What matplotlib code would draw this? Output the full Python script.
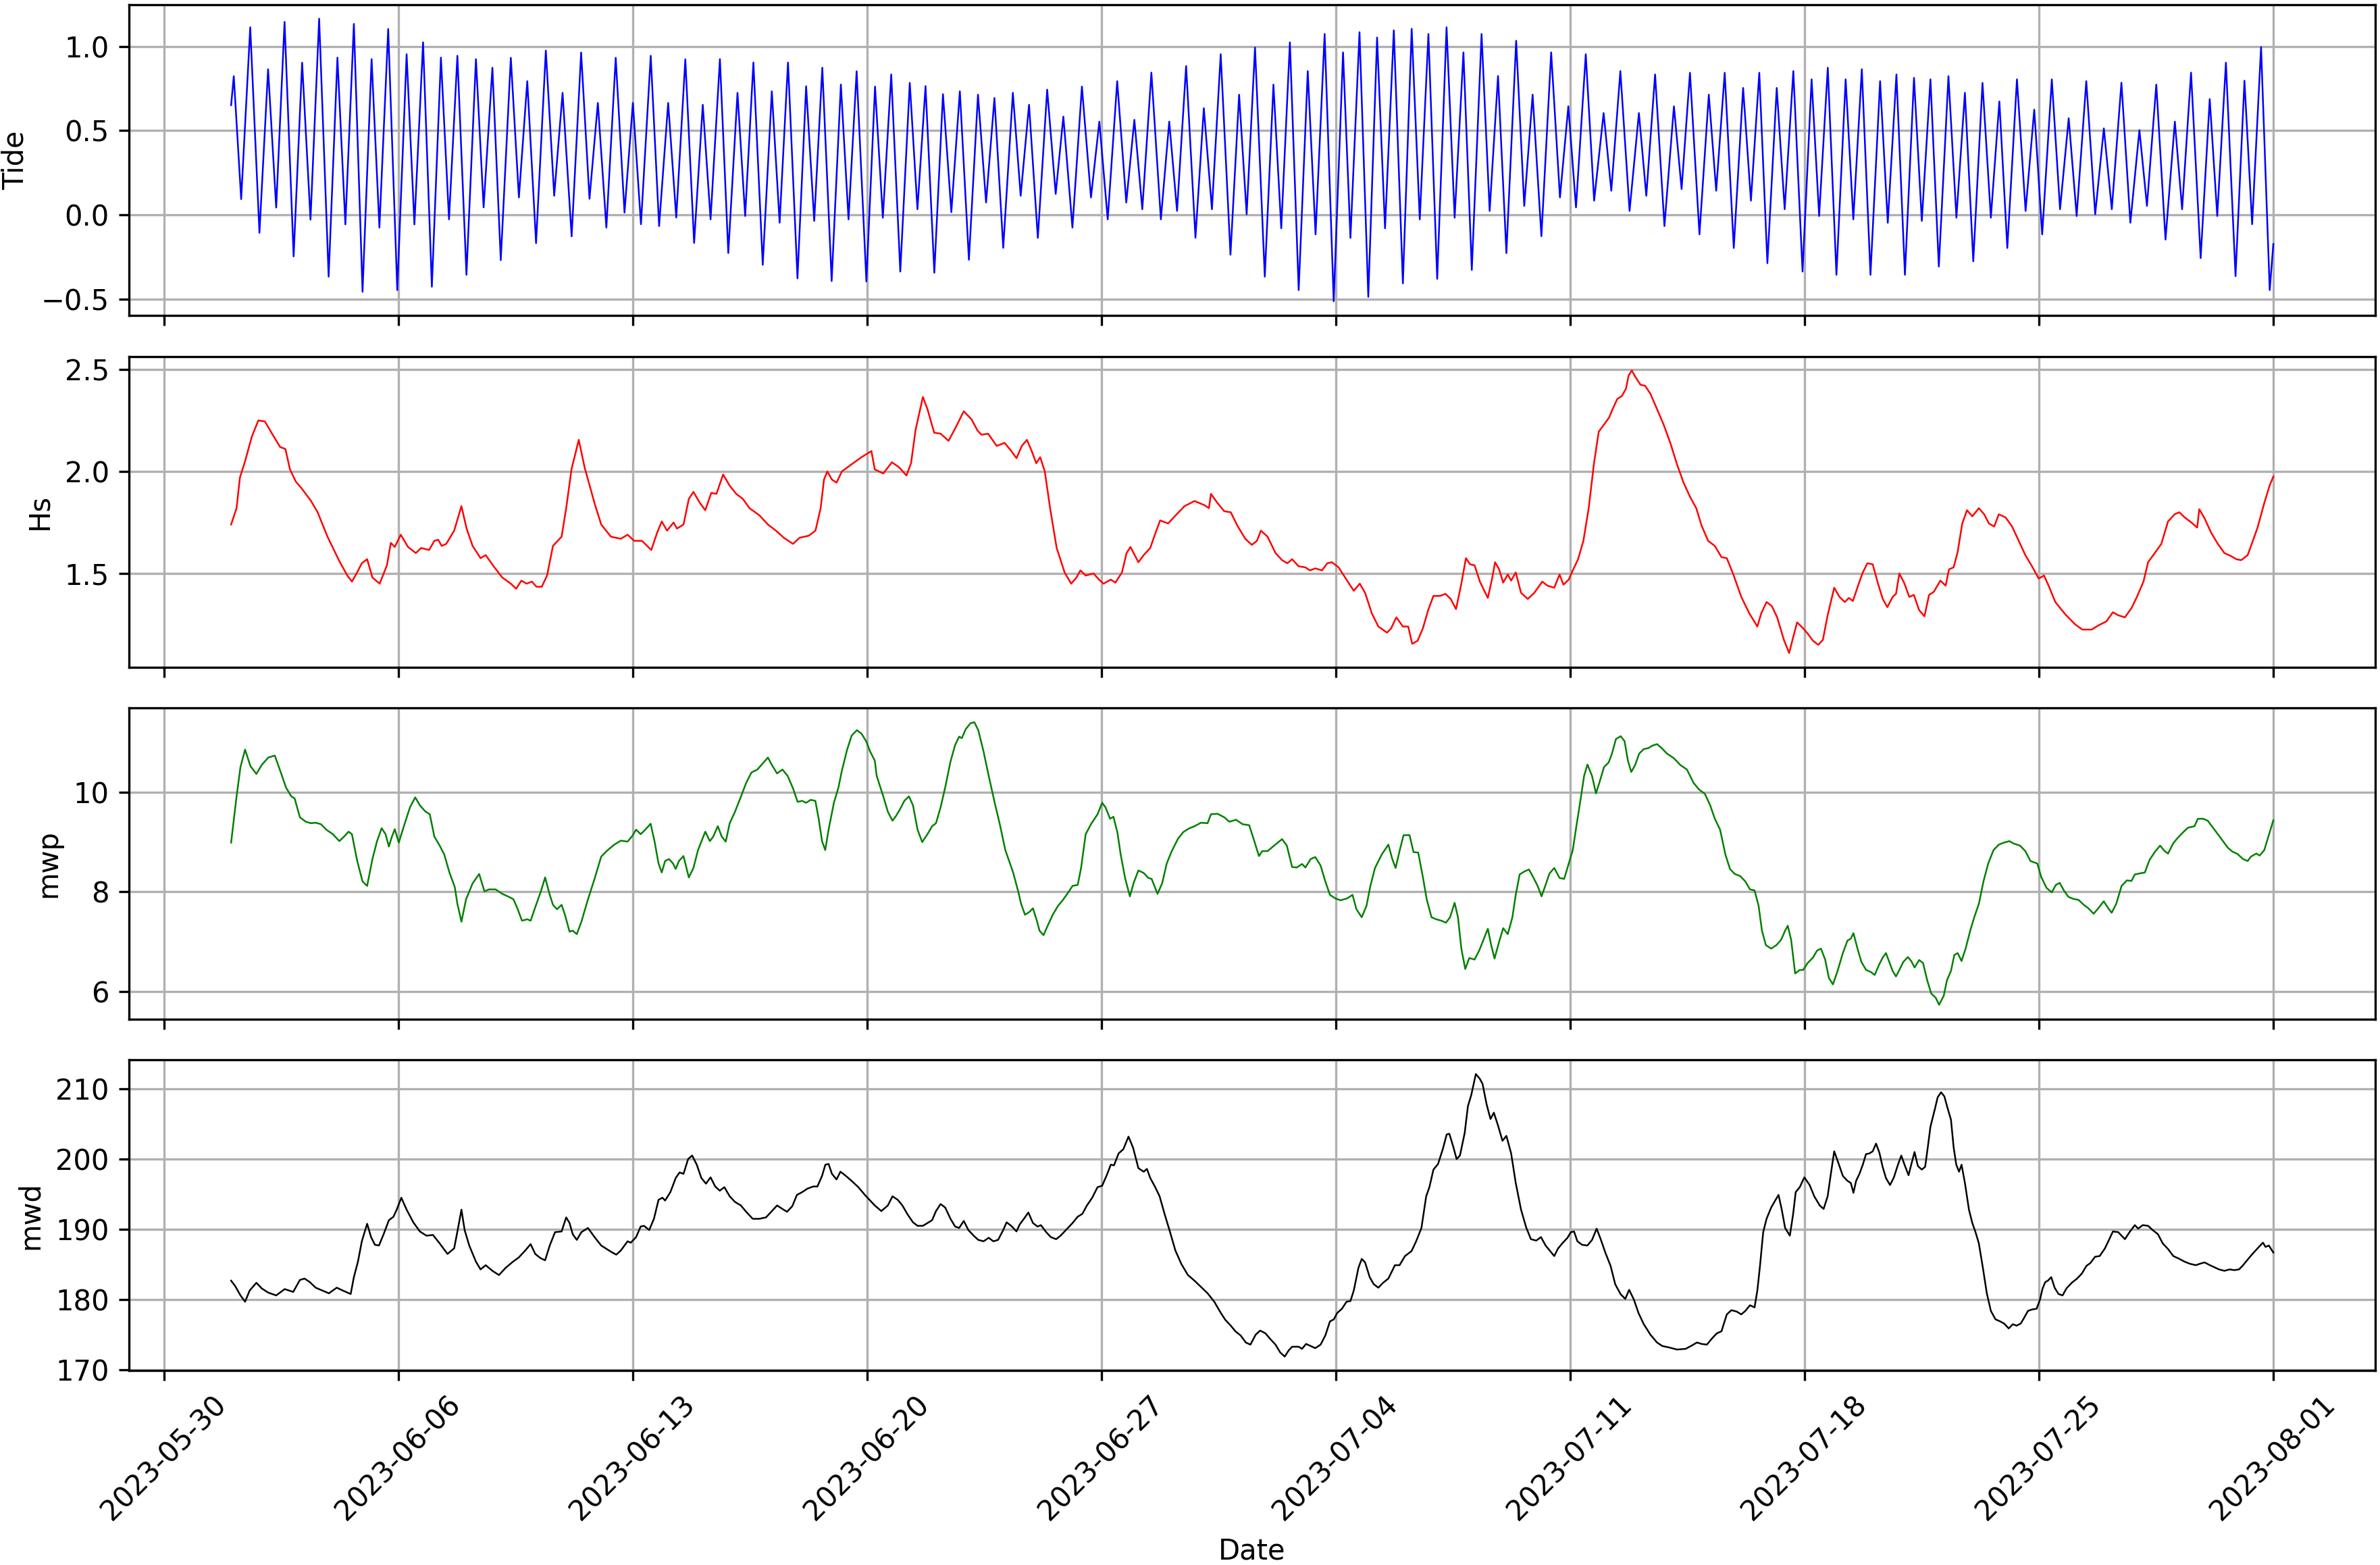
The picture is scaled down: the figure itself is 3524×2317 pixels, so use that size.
import matplotlib
matplotlib.use('Agg')
import matplotlib.pyplot as plt
import matplotlib.dates as mdates
import numpy as np
import pandas as pd

# series start; all times below are hours after this
START = pd.Timestamp('2023-06-01 00:00')

# Tide: high/low waters (hours, metres)
tide_hours = [0, 1.9, 7.2, 13.7, 20.3, 26.5, 32.3, 38.3, 44.8, 50.9, 56.9, 63.1, 69.9, 76.2, 81.9, 88.0, 94.2, 100.7, 106.3, 112.6, 119.1,
              125.8, 131.4, 137.6, 143.9, 150.4, 156.2, 162.2, 168.7, 175.5, 181.0, 187.3, 193.3, 200.5, 206.3, 212.3, 218.6, 225.6, 231.6,
              237.6, 244.1, 250.9, 256.9, 262.9, 269.0, 275.7, 282.0, 288.0, 293.8, 300.8, 306.8, 313.3, 319.1, 325.6, 331.9, 338.1, 343.7,
              350.4, 356.4, 363.0, 368.5,
              374.4, 381.1, 387.6, 393.2, 399.2, 406.0, 412.2, 418.0, 423.8, 430.5, 437.1, 442.6, 448.4, 455.4, 461.6, 467.2, 473.2, 479.7,
              486.5, 492.0, 497.8, 504.1, 510.3, 516.3, 522.4, 528.9, 535.4, 541.2, 547.2, 553.5, 560.4, 566.0, 572.0, 578.3, 585.0, 591.1,
              596.6, 603.1, 609.9, 616.4, 622.4, 628.4, 635.2, 641.7, 647.5, 653.2, 659.7, 666.5, 672.5, 678.1, 684.6, 691.3, 697.3, 703.1,
              709.4, 716.4, 722.6, 728.0,
              734.0, 741.0, 747.2, 752.8, 759.0, 765.3, 771.8, 777.4, 783.9, 790.4, 797.1, 802.4, 808.9, 815.2, 821.5, 827.2, 833.5, 840.0,
              846.3, 852.1, 858.3, 864.6, 871.3, 877.1, 883.4, 889.4, 896.4, 902.2, 908.2, 914.2, 921.2, 927.0, 933.0, 939.3, 946.3, 952.6,
              958.6, 964.1, 971.1, 977.1, 983.9, 989.4, 995.9, 1002.5, 1009.2, 1014.5, 1020.8, 1027.5, 1034.3, 1039.8, 1045.8, 1052.6,
              1059.3, 1064.6, 1070.7, 1077.2, 1083.9, 1089.5, 1095.5,
              1101.3, 1108.0, 1113.7, 1119.9, 1126.5, 1133.0, 1138.4, 1144.6, 1150.8, 1157.4, 1162.9, 1169.0, 1175.2, 1182.1, 1187.6,
              1193.8, 1199.9, 1206.4, 1212.0, 1218.2, 1224.2, 1231.1, 1236.8, 1242.9, 1248.9, 1255.5, 1261.5, 1267.6, 1273.3, 1280.2,
              1286.4, 1292.6, 1298.3, 1305.2, 1311.1, 1317.3, 1323.0, 1329.9, 1336.3, 1342.5, 1348.2, 1355.1, 1361.5, 1368.0, 1373.4,
              1380.1, 1386.7, 1393.4, 1398.6, 1405.0, 1411.9, 1418.4, 1423.8, 1430.0, 1436.9, 1443.3, 1448.8, 1455.2, 1461.4, 1464.0]
tide_vals = [0.651, 0.823, 0.093, 1.113, -0.107, 0.864, 0.043, 1.145, -0.247, 0.903, -0.029, 1.164, -0.367, 0.933, -0.057, 1.133, -0.457,
             0.924, -0.076, 1.103, -0.447, 0.953, -0.057, 1.024, -0.427, 0.933, -0.027, 0.944, -0.356, 0.924, 0.044, 0.873, -0.269, 0.932,
             0.103, 0.793, -0.168, 0.975, 0.113, 0.724, -0.128, 0.963, 0.095, 0.664, -0.076, 0.932, 0.013, 0.664, -0.056, 0.944, -0.067,
             0.664, -0.016, 0.923, -0.167, 0.653, -0.027, 0.924, -0.227, 0.724, -0.007,
             0.904, -0.297, 0.733, -0.047, 0.904, -0.377, 0.763, -0.036, 0.873, -0.393, 0.773, -0.027, 0.852, -0.396, 0.761, -0.017,
             0.833, -0.337, 0.783, 0.033, 0.764, -0.344, 0.716, 0.016, 0.733, -0.267, 0.713, 0.073, 0.693, -0.196, 0.724, 0.113, 0.653,
             -0.137, 0.743, 0.124, 0.583, -0.076, 0.761, 0.103, 0.553, -0.027, 0.793, 0.073, 0.564, 0.033, 0.844, -0.027, 0.553, 0.023,
             0.883, -0.136, 0.633, 0.033, 0.953, -0.237, 0.713, 0.003,
             0.993, -0.367, 0.773, -0.08, 1.024, -0.447, 0.853, -0.116, 1.073, -0.513, 0.964, -0.137, 1.084, -0.487, 1.052, -0.08, 1.095,
             -0.407, 1.104, -0.027, 1.073, -0.38, 1.113, -0.017, 0.964, -0.327, 1.073, 0.023, 0.824, -0.227, 1.033, 0.053, 0.713, -0.127,
             0.964, 0.103, 0.644, 0.044, 0.953, 0.084, 0.604, 0.143, 0.853, 0.023, 0.604, 0.113, 0.833, -0.067, 0.644, 0.153, 0.843,
             -0.116, 0.713, 0.143, 0.843, -0.197, 0.753, 0.084, 0.843,
             -0.287, 0.753, 0.033, 0.853, -0.337, 0.804, -0.007, 0.873, -0.356, 0.804, -0.027, 0.864, -0.356, 0.793, -0.047, 0.833,
             -0.356, 0.813, -0.036, 0.804, -0.307, 0.823, -0.017, 0.724, -0.276, 0.783, -0.017, 0.673, -0.197, 0.804, 0.023, 0.624,
             -0.116, 0.804, 0.033, 0.573, -0.007, 0.793, 0.003, 0.513, 0.033, 0.784, -0.047, 0.503, 0.053, 0.773, -0.147, 0.553, 0.033,
             0.844, -0.257, 0.687, -0.007, 0.903, -0.364, 0.796, -0.056, 0.996, -0.447, -0.173]

# Hs (significant wave height)
hs_hours = [0, 3.9, 6.3, 10.0, 14.8, 19.5, 24.2, 28.9, 35.1, 38.9, 42.2, 46.4, 50.2, 57.3, 62.0, 69.1, 77.6, 83.3, 86.6, 89.9, 93.7, 97.5,
            101.3, 106.5, 111.7, 114.5, 117.3, 121.6, 126.8, 132.4, 136.2, 141.9, 145.7, 148.5, 150.9, 154.2, 159.9, 165.1, 168.8, 173.1,
            178.8, 182.5, 188.2, 194.4, 200.5, 204.3, 208.1, 211.8, 215.6, 218.9, 222.7, 226.5, 230.7, 236.9, 240.2, 244.0, 249.2, 253.4,
            260.5, 265.3, 272.3, 279.4, 284.2, 288.9, 294.5, 301.2, 305.4, 308.7, 312.5, 317.2, 319.6, 324.3, 328.1, 331.4, 336.1, 339.9,
            344.2, 347.9, 352.7, 357.4, 362.1, 366.9, 371.6, 378.7, 384.8, 390.5, 396.2, 402.8, 407.5, 414.1, 418.9, 422.6, 425.0, 427.4,
            430.7, 434.0, 437.8, 444.8, 451.9, 459.0, 461.4, 467.5, 473.7, 478.9, 484.1, 487.4, 490.7, 495.9, 499.2, 504.0, 508.6, 514.3,
            519.0, 525.2, 530.8, 535.1, 537.9, 542.7, 548.8, 554.5, 558.7, 563.0, 566.8, 570.5, 573.9, 577.2, 580.0, 583.3, 587.1, 591.8,
            597.5, 602.2, 606.0, 608.8, 612.6, 618.3, 622.1, 625.4, 630.6, 633.9, 638.6, 641.9, 644.7, 650.4, 654.2, 658.9, 662.2, 666.0,
            671.7, 677.8, 683.5, 690.6, 697.7, 701.0, 702.4, 707.1, 711.9, 716.6, 721.3, 727.0, 731.7,
            735.4, 738.2, 743.0, 748.7, 753.4, 757.2, 760.6, 765.3, 770.1, 773.4, 777.2, 782.0, 785.8, 789.1, 793.9, 798.6, 804.8, 809.1,
            812.9, 817.7, 822.4, 828.6, 831.5, 835.3, 840.0, 843.8, 846.7, 850.5, 854.3, 858.1, 861.9, 866.7, 870.5, 874.3, 878.1, 881.9,
            885.2, 888.1, 891.4, 895.2, 900.9, 903.8, 906.1, 909.0, 911.9, 915.2, 917.6, 920.9, 924.7, 929.5, 934.2, 939.9, 943.7, 948.5,
            952.3, 955.1, 958.9, 961.8, 965.6, 969.4, 973.2, 977.0, 980.4, 984.2, 987.9, 990.3, 993.7, 997.0, 999.9, 1001.8, 1004.1,
            1006.5, 1010.3, 1013.6, 1017.5, 1022.2, 1026.9, 1031.7, 1036.5, 1041.2, 1045.9, 1050.3, 1054.1, 1058.8, 1063.6, 1068.4,
            1072.2, 1076.9, 1082.6, 1088.3, 1094.1, 1096.9, 1100.7, 1104.5, 1108.3, 1113.1, 1116.9, 1119.7, 1122.6, 1126.4, 1130.2,
            1134.0, 1137.8, 1141.1, 1144.5, 1149.2, 1153.0, 1156.8, 1159.7, 1162.6, 1166.3, 1169.7, 1173.0, 1176.8, 1180.6, 1184.0,
            1187.3, 1191.1, 1193.5, 1195.9, 1199.6, 1203.0, 1206.3, 1210.1, 1213.9, 1217.2, 1220.6, 1225.3, 1229.1, 1231.5, 1234.8,
            1237.7, 1241.0, 1244.4, 1248.2, 1252.9, 1256.7, 1260.1, 1263.9, 1267.2, 1272.0, 1276.7, 1281.5, 1286.2, 1291.0, 1295.8,
            1299.6, 1302.9, 1307.7, 1314.8, 1322.0, 1327.1, 1333.8, 1338.5, 1344.3, 1349.0, 1352.8, 1357.6, 1362.3, 1366.2, 1370.9,
            1374.2, 1379.0, 1383.7, 1388.5, 1393.2, 1396.6, 1400.4, 1405.2, 1409.4, 1410.9, 1414.7, 1419.4, 1424.2, 1428.9, 1433.7,
            1437.5, 1440.9, 1445.6, 1448.0, 1452.7, 1457.5, 1461.3, 1464.0]
hs_vals = [1.74, 1.82, 1.97, 2.05, 2.17, 2.25, 2.245, 2.19, 2.12, 2.11, 2.01, 1.95, 1.92, 1.855, 1.80, 1.68, 1.56, 1.49, 1.46, 1.50, 1.55,
           1.57, 1.48, 1.45, 1.54, 1.65, 1.63, 1.69, 1.63, 1.60, 1.625, 1.615, 1.66, 1.665, 1.635, 1.645, 1.71, 1.83, 1.72, 1.635, 1.575,
           1.59, 1.535, 1.48, 1.45, 1.425, 1.465, 1.45, 1.46, 1.435, 1.435, 1.49, 1.635, 1.68, 1.82, 2.01, 2.155, 2.02, 1.845, 1.74,
           1.68, 1.67, 1.69, 1.66, 1.66, 1.615, 1.70, 1.755, 1.71, 1.75, 1.72, 1.74, 1.865, 1.90, 1.845, 1.81, 1.895, 1.89, 1.985, 1.93,
           1.89, 1.865, 1.82, 1.785, 1.74, 1.71, 1.675, 1.645, 1.675, 1.685, 1.71, 1.82, 1.96, 2.00, 1.96, 1.945, 2.00, 2.035, 2.07,
           2.10, 2.01, 1.99, 2.045, 2.02, 1.98, 2.04, 2.205, 2.365, 2.305, 2.19, 2.185, 2.15, 2.21, 2.295, 2.255, 2.20, 2.18, 2.185,
           2.125, 2.14, 2.105, 2.065, 2.125, 2.155, 2.10, 2.04, 2.07, 2.00, 1.82, 1.625, 1.505, 1.45, 1.48, 1.515, 1.49, 1.50, 1.47,
           1.45, 1.47, 1.455, 1.505, 1.60, 1.63, 1.555, 1.59, 1.625, 1.69, 1.76, 1.745, 1.79, 1.83, 1.855, 1.835, 1.82, 1.89, 1.845,
           1.805, 1.80, 1.735, 1.67, 1.64,
           1.66, 1.71, 1.68, 1.60, 1.565, 1.55, 1.57, 1.535, 1.53, 1.515, 1.525, 1.515, 1.55, 1.555, 1.53, 1.48, 1.415, 1.45, 1.405,
           1.305, 1.24, 1.21, 1.23, 1.285, 1.24, 1.24, 1.155, 1.17, 1.23, 1.32, 1.39, 1.39, 1.40, 1.375, 1.325, 1.45, 1.575, 1.545,
           1.54, 1.46, 1.38, 1.47, 1.555, 1.52, 1.455, 1.495, 1.465, 1.505, 1.405, 1.375, 1.405, 1.46, 1.44, 1.43, 1.495, 1.445, 1.47,
           1.515, 1.57, 1.66, 1.82, 2.04, 2.195, 2.23, 2.265, 2.305, 2.355, 2.37, 2.405, 2.47, 2.495, 2.465, 2.425, 2.42, 2.38, 2.305,
           2.23, 2.14, 2.035, 1.945, 1.875, 1.82, 1.735, 1.66, 1.635, 1.58, 1.575, 1.495, 1.385, 1.305, 1.24, 1.305, 1.36, 1.34, 1.285,
           1.175, 1.11, 1.185, 1.26, 1.235, 1.205, 1.17, 1.15, 1.175, 1.295, 1.43, 1.385, 1.36, 1.38, 1.365, 1.44, 1.505, 1.55, 1.545,
           1.45, 1.375, 1.335, 1.385, 1.40, 1.50, 1.45, 1.385, 1.395, 1.32, 1.29, 1.395, 1.41, 1.465, 1.44, 1.52, 1.53, 1.605, 1.745,
           1.81, 1.78, 1.82, 1.79, 1.745, 1.73, 1.79, 1.775, 1.73, 1.66, 1.59, 1.535, 1.475, 1.49, 1.44, 1.36, 1.30, 1.25, 1.225, 1.225,
           1.245, 1.265, 1.31, 1.295, 1.285, 1.33, 1.385, 1.46, 1.555, 1.60, 1.645, 1.755, 1.79, 1.80, 1.775, 1.75, 1.725, 1.815, 1.77,
           1.70, 1.645, 1.60, 1.585, 1.57, 1.565, 1.59, 1.635, 1.725, 1.845, 1.93, 1.975]

# mwp (mean wave period)
mwp_hours = [0, 3.9, 6.7, 10.0, 13.8, 18.1, 21.9, 26.6, 31.3, 36.0, 39.3, 43.1, 45.5, 49.3, 53.5, 57.3, 60.6, 64.4, 68.2, 72.9, 77.6,
             80.9, 84.2, 86.6, 90.4, 94.2, 97.5, 101.3, 104.6, 107.9, 110.7, 113.1, 115.0, 117.3, 120.2, 123.5, 128.2, 132.0, 135.3,
             139.1, 142.4, 145.7, 149.5, 152.8, 156.5, 160.3, 162.2, 165.1, 168.4, 173.1, 177.8, 181.6, 184.9, 189.6, 194.4, 199.1,
             202.4, 205.2, 208.5, 212.3, 214.7, 218.0, 221.8, 225.1, 227.9, 230.7, 233.6, 236.9, 239.3, 242.6, 244.9, 247.8, 251.1,
             255.8, 260.5, 265.3, 270.0, 274.7, 279.4, 284.2, 287.5, 290.3, 293.6, 296.9, 300.7, 303.5, 306.4, 308.7, 311.1, 313.9,
             316.8, 318.7, 321.0, 324.3, 328.1, 331.4, 334.7, 339.9, 343.2, 345.6, 348.9, 351.7, 354.6, 357.4, 361.2, 365.4, 369.2,
             373.0, 377.3, 381.0, 384.8, 388.1, 391.4, 395.2, 399.0, 402.8, 406.1, 409.4, 412.2, 415.5, 418.8, 421.2, 423.6, 425.9,
             428.3, 432.1, 435.4, 437.7, 441.5, 444.8, 448.6, 451.9, 455.2, 458.1, 461.4, 462.8, 467.5, 470.8, 474.1, 476.5, 479.3,
             482.6, 485.9, 488.8, 492.1, 495.4, 499.2, 502.5, 505.3, 508.6, 511.9, 515.7, 519.1, 521.9, 523.8, 526.6, 530.0, 532.8,
             535.6, 539.4, 543.1, 547.4, 551.2, 555.0, 560.6, 564.4, 566.3, 569.1, 572.4, 574.8, 577.6, 579.5, 582.4, 585.2, 589.0,
             592.8, 596.1, 599.4, 603.2, 606.9, 609.3, 612.6, 616.4, 621.1, 624.4, 626.8, 630.1, 632.5, 635.3, 637.7, 641.0, 644.3,
             647.1, 650.4, 654.2, 657.5, 659.9, 664.1, 667.4, 670.7, 674.0, 678.8, 682.5, 686.3, 690.6, 695.3, 700.0, 702.4, 707.1,
             711.9, 715.6, 720.4, 725.1, 729.8,
             733.5, 736.8, 739.2, 743.0, 747.7, 753.4, 756.8, 760.6, 763.9, 767.7, 770.1, 773.9, 777.2, 781.0, 784.4, 787.7, 791.5,
             795.3, 800.1, 803.9, 806.7, 810.5, 813.9, 816.7, 820.0, 824.8, 829.6, 832.4, 834.8, 837.6, 840.5, 844.8, 847.6, 851.0,
             854.3, 857.1, 860.5, 863.8, 867.6, 870.9, 873.8, 877.1, 879.5, 881.9, 884.7, 887.6, 891.4, 894.7, 898.5, 900.9, 903.3,
             905.7, 909.0, 911.9, 915.2, 918.5, 920.9, 923.7, 927.1, 930.4, 933.3, 936.6, 939.4, 942.3, 945.1, 948.5, 952.3, 955.6,
             958.9, 961.8, 964.2, 967.5, 969.9, 972.3, 975.6, 978.4, 980.8, 984.2, 987.5, 989.9, 992.7, 996.1, 998.9, 1001.3, 1003.7,
             1006.5, 1009.4, 1012.7, 1016.0, 1018.9, 1022.2, 1025.5, 1029.3, 1034.1, 1038.9, 1043.6, 1048.4, 1052.2, 1056.5, 1060.3,
             1063.6, 1067.4, 1071.2, 1074.5, 1077.9, 1081.7, 1085.5, 1088.8, 1092.1, 1095.0, 1097.4, 1100.2, 1104.0, 1107.8, 1111.2,
             1114.0, 1115.9, 1118.3, 1121.2, 1124.5, 1126.9, 1130.2, 1134.0, 1136.9, 1139.7, 1142.7, 1145.4, 1148.3, 1151.6, 1155.4,
             1158.7, 1161.1, 1163.0, 1165.9, 1168.7, 1172.1, 1175.4, 1178.2, 1181.6, 1184.0, 1186.3, 1188.7, 1191.1, 1193.5, 1195.9,
             1198.7, 1202.0, 1204.4, 1206.8, 1210.1, 1212.9, 1215.8, 1218.7, 1222.0, 1224.4, 1227.7, 1230.1, 1232.9, 1235.3, 1237.7,
             1240.5, 1243.4, 1246.7, 1249.6, 1252.9, 1256.2, 1259.6, 1263.4, 1267.2, 1270.9, 1274.7, 1278.0, 1282.4, 1286.2, 1289.9,
             1294.8, 1297.6, 1301.4, 1305.2, 1308.1, 1310.9, 1313.8, 1317.1, 1320.5, 1324.3, 1328.1, 1331.4, 1335.2, 1338.5, 1342.4,
             1345.7, 1348.1, 1351.4, 1355.2, 1359.0, 1362.3, 1364.7, 1368.1, 1371.9, 1375.2, 1379.0, 1382.8, 1386.1, 1388.5, 1392.3,
             1395.6, 1399.4, 1402.8, 1407.5, 1409.9, 1413.7, 1417.0, 1421.8, 1426.6, 1431.3, 1434.6, 1438.4, 1442.3, 1445.6, 1448.0,
             1451.8, 1454.2, 1457.5, 1460.4, 1464.0]
mwp_vals = [8.99, 9.92, 10.51, 10.86, 10.53, 10.37, 10.55, 10.70, 10.74, 10.37, 10.10, 9.92, 9.88, 9.50, 9.41, 9.38, 9.39, 9.36, 9.25,
            9.16, 9.02, 9.11, 9.21, 9.16, 8.62, 8.21, 8.12, 8.66, 9.02, 9.28, 9.16, 8.91, 9.09, 9.26, 8.99, 9.29, 9.70, 9.90, 9.74, 9.62,
            9.56, 9.11, 8.93, 8.75, 8.39, 8.10, 7.76, 7.40, 7.85, 8.17, 8.36, 8.01, 8.05, 8.05, 7.96, 7.90, 7.85, 7.67, 7.42, 7.45, 7.42,
            7.69, 7.99, 8.29, 7.99, 7.74, 7.65, 7.74, 7.54, 7.20, 7.22, 7.15, 7.40, 7.85, 8.26, 8.71, 8.84, 8.95, 9.03, 9.01, 9.12, 9.25,
            9.16, 9.25, 9.37, 9.02, 8.57, 8.39, 8.62, 8.66, 8.57, 8.46, 8.62, 8.72, 8.29, 8.48, 8.84, 9.21, 9.02, 9.11, 9.32, 9.11, 9.01,
            9.38, 9.61, 9.91, 10.19, 10.40, 10.46, 10.58, 10.70, 10.53, 10.38, 10.46, 10.33, 10.08, 9.81, 9.83, 9.79, 9.85, 9.83, 9.47,
            9.02, 8.84, 9.25, 9.79, 10.10, 10.42, 10.85, 11.14, 11.25, 11.18, 11.03, 10.82, 10.64, 10.33, 9.92, 9.61, 9.43, 9.52, 9.65,
            9.83, 9.92, 9.74, 9.25, 9.00, 9.16, 9.32, 9.38, 9.70, 10.10, 10.62, 10.96, 11.12, 11.09, 11.27, 11.39, 11.41, 11.25, 10.82,
            10.33, 9.79, 9.34, 8.84, 8.39, 7.99, 7.76, 7.54, 7.60, 7.67, 7.42, 7.22, 7.13, 7.31, 7.54, 7.72, 7.83, 7.96, 8.12, 8.14,
            8.48, 9.16, 9.36, 9.56, 9.79, 9.70, 9.47, 9.51, 9.20, 8.75, 8.26, 7.91, 8.19, 8.43, 8.38, 8.28, 8.26, 7.96, 8.17, 8.57,
            8.80, 9.07, 9.20, 9.27, 9.32, 9.39, 9.38, 9.56, 9.57, 9.50, 9.41, 9.45, 9.36, 9.34,
            9.02, 8.72, 8.82, 8.82, 8.93, 9.06, 8.93, 8.50, 8.49, 8.56, 8.49, 8.66, 8.70, 8.53, 8.21, 7.94, 7.87, 7.83, 7.87, 7.94,
            7.65, 7.49, 7.72, 8.12, 8.48, 8.75, 8.95, 8.66, 8.48, 8.82, 9.14, 9.14, 8.80, 8.79, 8.30, 7.85, 7.49, 7.45, 7.42, 7.38,
            7.49, 7.78, 7.49, 6.86, 6.45, 6.67, 6.64, 6.82, 7.09, 7.26, 6.93, 6.66, 7.00, 7.27, 7.15, 7.49, 7.94, 8.35, 8.41, 8.45,
            8.30, 8.12, 7.91, 8.14, 8.37, 8.48, 8.28, 8.26, 8.57, 8.84, 9.29, 9.88, 10.33, 10.56, 10.33, 9.98, 10.19, 10.51, 10.60,
            10.78, 11.07, 11.13, 11.03, 10.64, 10.41, 10.55, 10.78, 10.87, 10.89, 10.94, 10.97, 10.89, 10.78, 10.69, 10.55, 10.46,
            10.19, 10.06, 9.97, 9.74, 9.47, 9.25, 8.75, 8.46, 8.36, 8.32, 8.21, 8.05, 8.03, 7.72, 7.22, 6.93, 6.86, 6.93, 7.04, 7.22,
            7.32, 7.04, 6.36, 6.43, 6.43, 6.57, 6.68, 6.82, 6.86, 6.64, 6.27, 6.14, 6.41, 6.77, 7.02, 7.06, 7.17, 6.86, 6.59, 6.43,
            6.39, 6.33, 6.55, 6.68, 6.77, 6.59, 6.41, 6.30, 6.43, 6.59, 6.69, 6.61, 6.48, 6.63, 6.57, 6.23, 5.96, 5.87, 5.73, 5.91,
            6.23, 6.41, 6.73, 6.77, 6.61, 6.86, 7.22, 7.49, 7.76, 8.21, 8.57, 8.84, 8.95, 8.99, 9.02, 8.97, 8.93, 8.82, 8.62, 8.57,
            8.30, 8.08, 7.99, 8.14, 8.18, 8.03, 7.90, 7.86, 7.84, 7.74, 7.67, 7.56, 7.67, 7.81, 7.67, 7.58, 7.76, 8.12, 8.23, 8.22,
            8.35, 8.37, 8.39, 8.64, 8.80, 8.93, 8.82, 8.77, 8.98, 9.09, 9.20, 9.29, 9.32, 9.47, 9.47, 9.43, 9.25, 9.07, 8.89, 8.81,
            8.76, 8.66, 8.62, 8.71, 8.77, 8.73, 8.84, 9.11, 9.44]

# mwd (mean wave direction, degrees)
mwd_hours = [0, 3.0, 6.7, 10.0, 13.3, 18.1, 21.9, 26.6, 32.3, 38.4, 44.5, 49.3, 52.6, 56.4, 60.6, 65.3, 70.1, 75.7, 80.0, 85.7, 88.0,
             90.9, 93.7, 97.5, 100.3, 103.1, 106.0, 109.3, 113.1, 116.4, 118.7, 122.0, 125.8, 130.6, 135.3, 140.0, 144.7, 149.5, 155.1,
             159.9, 162.7, 165.1, 167.4, 170.7, 175.5, 178.8, 182.5, 187.3, 192.0, 196.7, 201.4, 206.2, 210.9, 214.7, 218.0, 221.8,
             225.1, 228.4, 232.2, 236.9, 240.2, 242.6, 244.9, 247.8, 251.1, 255.8, 260.5, 265.3, 270.0, 273.3, 276.1, 279.4, 284.2,
             286.5, 290.3, 293.6, 296.0, 299.7, 303.1, 306.4, 309.2, 311.1, 314.9, 318.7, 321.5, 324.3, 327.6, 330.5, 333.8, 337.1,
             340.4, 343.7, 347.0, 350.3, 353.6, 357.4, 361.2, 365.4, 369.2, 373.9, 378.7, 383.4, 387.2, 391.4, 395.2, 398.5, 402.3,
             405.6, 409.4, 413.2, 417.4, 420.3, 423.6, 426.0, 428.3, 430.7, 434.0, 436.8, 440.1, 444.8, 449.6, 454.3, 458.1, 461.4,
             466.1, 470.8, 474.1, 477.9, 481.2, 485.0, 488.8, 492.1, 495.9, 499.2, 502.5, 505.3, 508.6, 511.9, 515.7, 519.0, 521.9,
             525.2, 528.5, 532.3, 535.6, 539.4, 543.1, 546.4, 549.8, 553.5, 555.9, 559.2, 563.0, 565.3, 568.7, 571.5, 574.8, 578.1,
             580.5, 584.3, 587.6, 591.4, 594.6, 598.4, 603.2, 606.9, 610.2, 613.5, 617.3, 621.1, 624.4, 627.7, 630.6, 632.9, 636.2,
             639.6, 643.3, 646.6, 650.4, 654.2, 656.5, 658.9, 662.2, 665.6, 669.3, 673.1, 676.9, 681.1, 685.9, 690.6, 695.3, 700.0,
             704.8, 709.5, 712.8, 716.6, 719.9, 723.7, 727.4, 730.7,
             734.4, 737.7, 741.5, 744.9, 748.7, 752.0, 755.3, 758.2, 760.6, 765.3, 767.7, 770.6, 773.9, 777.2, 781.0, 784.4, 787.7,
             790.5, 792.9, 796.3, 799.6, 802.4, 804.8, 808.1, 810.5, 812.9, 816.2, 819.1, 822.4, 825.8, 829.6, 834.3, 837.6, 841.5,
             846.2, 849.5, 853.3, 856.7, 859.0, 861.9, 865.2, 868.6, 871.4, 873.3, 876.2, 878.5, 880.9, 884.3, 886.6, 889.0, 892.3,
             895.2, 897.1, 900.0, 902.8, 905.2, 908.0, 911.4, 914.2, 917.6, 920.9, 924.7, 928.5, 931.8, 935.6, 939.0, 942.3, 945.2,
             948.5, 951.3, 954.7, 958.0, 960.4, 962.7, 965.1, 968.5, 972.3, 975.6, 978.9, 981.8, 985.1, 988.9, 992.2, 996.0, 999.4,
             1002.2, 1005.6, 1008.9, 1012.7, 1017.5, 1022.2, 1026.0, 1030.8, 1036.5, 1042.7, 1046.5, 1050.8, 1054.1, 1057.9, 1061.7,
             1065.0, 1068.4, 1072.2, 1075.5, 1079.3, 1082.6, 1085.5, 1088.8, 1092.1, 1094.1, 1096.0, 1098.3, 1100.7, 1104.0, 1106.9,
             1109.3, 1111.6, 1114.0, 1117.4, 1119.7, 1121.6, 1124.5, 1127.8, 1131.6, 1134.9, 1138.8, 1141.6, 1144.5, 1146.8, 1149.2,
             1152.1, 1155.4, 1158.7, 1161.1, 1163.0, 1164.9, 1167.3, 1169.7, 1172.0, 1174.4, 1176.8, 1179.2, 1181.6, 1183.9, 1186.3,
             1189.2, 1192.0, 1194.9, 1197.3, 1199.6, 1202.5, 1204.4, 1206.8, 1209.2, 1212.0, 1214.4, 1216.3, 1218.2, 1221.1, 1223.4,
             1225.8, 1228.2, 1230.1, 1232.9, 1234.8, 1236.7, 1238.7, 1240.5, 1242.9, 1245.8, 1248.2, 1250.5, 1252.9, 1255.8, 1258.6,
             1261.5, 1264.8, 1268.2, 1271.0, 1274.3, 1277.2, 1280.0, 1282.9, 1285.3, 1288.1, 1291.0, 1294.3, 1296.7, 1298.6, 1300.5,
             1302.4, 1304.8, 1307.2, 1310.0, 1312.9, 1315.7, 1319.5, 1323.3, 1326.7, 1330.0, 1332.8, 1336.2, 1339.5, 1343.3, 1345.7,
             1349.0, 1352.8, 1357.6, 1360.9, 1364.7, 1367.1, 1370.4, 1374.2, 1377.5, 1381.3, 1384.7, 1388.5, 1392.3, 1396.6, 1400.4,
             1404.2, 1408.5, 1411.3, 1414.7, 1418.5, 1421.8, 1425.1, 1428.9, 1432.7, 1436.1, 1439.4, 1442.3, 1445.6, 1449.0, 1452.7,
             1454.6, 1456.6, 1458.4, 1460.8, 1464.0]
mwd_vals = [182.7, 181.9, 180.6, 179.7, 181.3, 182.4, 181.6, 181.0, 180.6, 181.5, 181.1, 182.8, 183.0, 182.5, 181.7, 181.3, 180.9,
            181.7, 181.3, 180.8, 183.2, 185.4, 188.3, 190.8, 188.9, 187.8, 187.7, 189.3, 191.3, 191.8, 192.8, 194.5, 192.8, 191.0,
            189.7, 189.1, 189.2, 188.0, 186.5, 187.3, 190.2, 192.8, 189.9, 187.7, 185.4, 184.3, 184.9, 184.1, 183.5, 184.5, 185.3,
            186.0, 187.0, 187.9, 186.5, 185.9, 185.6, 187.7, 189.6, 189.7, 191.7, 190.9, 189.3, 188.5, 189.6, 190.2, 188.9, 187.7,
            187.1, 186.7, 186.4, 187.0, 188.3, 188.1, 188.9, 190.4, 190.5, 189.9, 191.5, 194.2, 194.5, 194.1, 195.3, 197.3, 198.1,
            197.9, 200.0, 200.5, 199.2, 197.3, 196.5, 197.4, 196.1, 195.5, 196.0, 194.7, 193.9, 193.4, 192.5, 191.5, 191.5, 191.7,
            192.5, 193.4, 192.9, 192.5, 193.3, 194.9, 195.3, 195.8, 196.1, 196.1, 197.6, 199.2, 199.3, 197.9, 197.1, 198.2, 197.7,
            196.9, 196.0, 194.9, 194.1, 193.4, 192.6, 193.4, 194.7, 194.2, 193.4, 192.1, 191.0, 190.5, 190.5, 190.9, 191.3, 192.6,
            193.6, 193.1, 191.5, 190.4, 190.2, 191.2, 189.9, 189.1, 188.5, 188.3, 188.8, 188.3, 188.5, 189.9, 191.0, 190.5, 189.7,
            190.7, 191.6, 192.4, 190.9, 190.4, 190.6, 189.6, 188.9, 188.6, 189.1, 189.9, 190.9, 191.8, 192.2, 193.4, 194.5, 196.0,
            196.2, 197.7, 199.2, 199.1, 200.8, 201.4, 203.2, 201.6, 198.7, 198.2, 198.6, 197.3, 196.1, 194.7, 192.1, 189.6, 187.0,
            185.1, 183.5, 182.7, 181.8, 180.9, 179.7, 178.1, 177.1, 176.3, 175.5, 174.9, 173.9, 173.6,
            175.0, 175.6, 175.2, 174.4, 173.6, 172.5, 171.9, 172.8, 173.3, 173.3, 173.0, 173.7, 173.4, 173.1, 173.6, 174.9, 176.9,
            177.2, 178.1, 178.7, 179.7, 179.8, 181.3, 184.5, 185.8, 185.3, 183.2, 182.2, 181.7, 182.4, 183.0, 184.9, 184.9, 186.2,
            186.9, 188.3, 190.2, 194.7, 196.0, 198.5, 199.3, 201.4, 203.5, 203.6, 201.7, 200.0, 200.5, 203.7, 207.5, 209.1, 212.1,
            211.4, 210.7, 207.8, 205.7, 206.6, 204.9, 202.6, 203.3, 200.8, 196.6, 192.8, 190.2, 188.6, 188.4, 188.9, 187.7, 187.0,
            186.2, 187.3, 188.1, 188.8, 189.6, 189.7, 188.3, 187.8, 187.7, 188.5, 190.1, 188.6, 186.7, 184.8, 182.2, 180.8, 180.1,
            181.4, 180.0, 178.1, 176.5, 175.0, 173.9, 173.4, 173.2, 172.9, 173.0, 173.4, 173.9, 173.7, 173.6, 174.5, 175.2, 175.5,
            177.9, 178.5, 178.3, 177.9, 178.4, 179.2, 178.9, 181.3, 184.8, 189.6, 191.5, 193.1, 194.1, 194.9, 192.8, 190.2, 189.1,
            192.1, 195.3, 196.0, 197.4, 196.3, 194.7, 193.4, 192.9, 194.7, 197.9, 201.1, 199.5, 197.6, 196.9, 196.6, 195.2, 196.9,
            197.9, 199.2, 200.7, 200.8, 201.1, 202.2, 200.9, 198.9, 197.3, 196.3, 197.4, 199.2, 200.5, 199.2, 197.7, 199.2, 201.0,
            199.0, 198.5, 198.9, 201.7, 204.6, 206.9, 208.8, 209.5, 208.9, 207.5, 205.6, 201.7, 199.2, 198.2, 199.2, 196.6, 192.8,
            190.9, 189.6, 188.0, 184.5, 180.9, 178.4, 177.2, 176.9, 176.6, 175.9, 176.5, 176.3, 176.6, 177.4, 178.4, 178.6, 178.7,
            180.0, 181.6, 182.5, 182.7, 183.2, 181.7, 180.8, 180.6, 181.6, 182.4, 183.0, 183.7, 184.8, 185.2, 186.1, 186.2, 187.3,
            188.3, 189.7, 189.6, 188.6, 189.6, 190.6, 190.1, 190.6, 190.5, 189.9, 189.3, 188.0, 187.2, 186.2, 185.8, 185.4, 185.1,
            184.9, 185.1, 185.3, 184.9, 184.6, 184.3, 184.1, 184.3, 184.2, 184.3, 184.9, 185.7, 186.5, 187.3, 187.7, 188.1, 187.5,
            187.7, 186.7]

# x tick dates (weekly)
tick_dates = ['2023-05-30', '2023-06-06', '2023-06-13', '2023-06-20', '2023-06-27', '2023-07-04',
              '2023-07-11', '2023-07-18', '2023-07-25', '2023-08-01']

panels = [
    ('Tide', tide_hours, tide_vals, 'blue', 0.6),
    ('Hs', hs_hours, hs_vals, 'red', 0.6),
    ('mwp', mwp_hours, mwp_vals, 'green', 0.6),
    ('mwd', mwd_hours, mwd_vals, 'black', 0.6),
]

fig, axes = plt.subplots(4, 1, sharex=True, figsize=(3524 / 300, 2317 / 300), dpi=300)
fig.subplots_adjust(left=85 / 1568, right=1565 / 1568, top=1 - 3 / 1031, bottom=1 - 903 / 1031, hspace=27 / 205)

for ax, (name, hrs, vals, col, lw) in zip(axes, panels):
    t = START + pd.to_timedelta(np.array(hrs), unit='h')
    ax.plot(t, vals, color=col, linewidth=lw)
    ax.set_ylabel(name)
    ax.grid(True)

axes[-1].set_xticks(pd.to_datetime(tick_dates))
axes[-1].xaxis.set_major_formatter(mdates.DateFormatter('%Y-%m-%d'))
plt.setp(axes[-1].get_xticklabels(), rotation=45)
axes[-1].set_xlabel('Date')

fig.savefig('out.png', dpi=300)
